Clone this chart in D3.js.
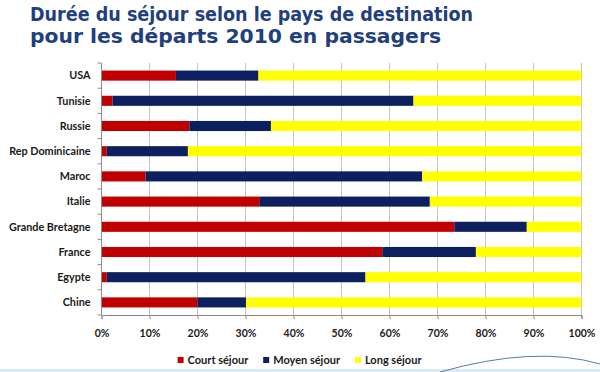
<!DOCTYPE html>
<html>
<head>
<meta charset="utf-8">
<script src="https://cdn.jsdelivr.net/npm/d3@7"></script>
<style>
  body { margin: 0; background: #fff; }
  svg { display: block; }
</style>
</head>
<body>
<div id="chart"></div>
<script>
// --- data (percent of passengers) ---
const titleLines = ["Durée du séjour selon le pays de destination", "pour les départs 2010 en passagers"];
const countries = ["USA", "Tunisie", "Russie", "Rep Dominicaine", "Maroc", "Italie", "Grande Bretagne", "France", "Egypte", "Chine"];
const court = [15.5, 2.3, 18.3, 1.1, 9.2, 33.0, 73.5, 58.5, 1.1, 20.0];
const moyen = [17.2, 62.7, 17.0, 16.9, 57.6, 35.4, 15.1, 19.5, 53.9, 10.1];
const long = [67.3, 35.0, 64.7, 82.0, 33.2, 31.6, 11.4, 22.0, 45.0, 69.9];
const seriesNames = ["Court séjour", "Moyen séjour", "Long séjour"];
const xTicks = [0, 10, 20, 30, 40, 50, 60, 70, 80, 90, 100];

const colors = ["#c00000", "#0c1f5e", "#ffff00"];

const W = 600, H = 372;
const margin = { top: 63, right: 18.5, bottom: 57, left: 101.5 };
const width = W - margin.left - margin.right,
    height = H - margin.top - margin.bottom;

const svg = d3.select("#chart")
    .append("svg")
    .attr("width", W)
    .attr("height", H);

// title (the original face is narrower than DejaVu, so squeeze to its width)
const titleWidths = [443, 411];
svg.selectAll(".title")
    .data(titleLines)
    .enter()
    .append("text")
    .attr("class", "title")
    .attr("x", 30)
    .attr("y", (d, i) => 20.5 + i * 22)
    .attr("font-family", "DejaVu Sans")
    .attr("font-weight", "bold")
    .attr("font-size", 18.8)
    .attr("fill", "#1f3f7e")
    .attr("textLength", (d, i) => titleWidths[i])
    .attr("lengthAdjust", "spacingAndGlyphs")
    .text(d => d);

const table = countries.map((c, i) => ({ pays: c, court: court[i], moyen: moyen[i], long: long[i] }));
const stack = d3.stack().keys(["court", "moyen", "long"]);
const layers = stack(table);

const g = svg.append("g")
    .attr("transform", `translate(${margin.left},${margin.top})`);

const x = d3.scaleLinear().domain([0, 100]).range([0, width]);
const y = d3.scaleBand().domain(countries).range([0, height]).paddingInner(0.6).paddingOuter(0.3);

// gridlines
g.append("g")
    .selectAll("line")
    .data(xTicks.filter(t => t > 0))
    .enter()
    .append("line")
    .attr("x1", d => x(d)).attr("x2", d => x(d))
    .attr("y1", 0).attr("y2", height)
    .attr("stroke", "#c4c4c4")
    .attr("stroke-width", 1);

// bars
g.append("g")
    .selectAll("g")
    .data(layers)
    .enter()
    .append("g")
    .attr("fill", (d, i) => colors[i])
    .selectAll("rect")
    .data(d => d)
    .enter()
    .append("rect")
    .attr("x", d => x(d[0]))
    .attr("width", d => x(d[1]) - x(d[0]))
    .attr("y", d => y(d.data.pays))
    .attr("height", y.bandwidth());

// x axis
const xAxis = g.append("g")
    .attr("transform", `translate(0,${height})`)
    .call(d3.axisBottom(x).tickValues(xTicks).tickSize(4).tickPadding(11).tickFormat(d => d + "%"));
xAxis.select(".domain").attr("stroke", "#8c8c8c");
xAxis.selectAll(".tick line").attr("stroke", "#8c8c8c");
xAxis.selectAll("text")
    .attr("font-family", "Lato")
    .attr("font-weight", "bold")
    .attr("font-size", 10.5)
    .attr("fill", "#1a1a1a");

// y axis with ticks between categories
const yAxis = g.append("g");
yAxis.append("line")
    .attr("x1", 0).attr("x2", 0)
    .attr("y1", 0).attr("y2", height)
    .attr("stroke", "#8c8c8c");
yAxis.selectAll(".sep")
    .data(d3.range(countries.length + 1))
    .enter()
    .append("line")
    .attr("x1", -4).attr("x2", 0)
    .attr("y1", i => i * y.step()).attr("y2", i => i * y.step())
    .attr("stroke", "#8c8c8c");
yAxis.selectAll("text")
    .data(countries)
    .enter()
    .append("text")
    .attr("x", -11)
    .attr("y", d => y(d) + y.bandwidth() / 2)
    .attr("dy", "0.35em")
    .attr("text-anchor", "end")
    .attr("font-family", "Lato")
    .attr("font-weight", "bold")
    .attr("font-size", 10.8)
    .attr("fill", "#1a1a1a")
    .text(d => d);

// legend
const legend = svg.append("g").attr("transform", "translate(0,360)");
const items = legend.selectAll("g")
    .data(seriesNames)
    .enter()
    .append("g");
items.append("rect")
    .attr("width", 6).attr("height", 6)
    .attr("y", -3)
    .attr("fill", (d, i) => colors[i]);
items.append("text")
    .attr("x", 10)
    .attr("dy", "0.35em")
    .attr("font-family", "Lato")
    .attr("font-weight", "bold")
    .attr("font-size", 11)
    .attr("fill", "#1a1a1a")
    .text(d => d);
let lx = 0;
const offsets = [];
items.each(function() {
    offsets.push(lx);
    lx += this.getBBox().width + 14;
});
const legendStart = (W - (lx - 14)) / 2;
items.attr("transform", (d, i) => `translate(${legendStart + offsets[i]},0)`);

// slide decoration at the bottom
svg.append("rect")
    .attr("x", 0).attr("y", 369)
    .attr("width", W).attr("height", 3)
    .attr("fill", "#dce9f5");
svg.append("path")
    .attr("d", "M440,372 Q535,345 600,364")
    .attr("fill", "none")
    .attr("stroke", "#5a7aa6")
    .attr("stroke-width", 1);
</script>
</body>
</html>
